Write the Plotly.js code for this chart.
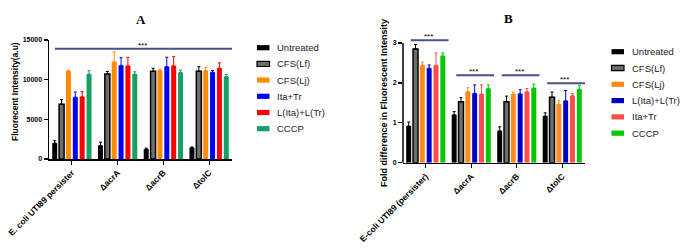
<!DOCTYPE html>
<html><head><meta charset="utf-8">
<script src="https://cdn.plot.ly/plotly-3.0.1.min.js"></script>
<style>html,body{margin:0;padding:0;background:#fff}#chart{width:685px;height:248px}</style>
</head><body><div id="chart"></div>
<script>
// ---------- DATA ----------
const categoriesA = ['E. coli UTI89 persister', '\u0394acrA', '\u0394acrB', '\u0394tolC'];
const categoriesB = ['E-coli UTI89 (persister)', '\u0394acrA', '\u0394acrB', '\u0394tolC'];
const seriesA = ['Untreated', 'CFS(Lf)', 'CFS(Lj)', 'Ita+Tr', 'L(Ita)+L(Tr)', 'CCCP'];
const seriesB = ['Untreated', 'CFS(Lf)', 'CFS(Lj)', 'L(Ita)+L(Tr)', 'Ita+Tr', 'CCCP'];

// Chart A: Fluorescent intensity (a.u)
const A_untreated = [2000, 1700, 1250, 1430];
const A_cfsLf     = [6900, 10700, 11050, 11050];
const A_cfsLj     = [11100, 12250, 11150, 11150];
const A_itaTr     = [7800, 11800, 11650, 10950];
const A_lItaLTr   = [7850, 11750, 11750, 11450];
const A_cccp      = [10700, 10700, 10900, 10400];
const A_untreated_err = [300, 420, 120, 100];
const A_cfsLf_err     = [590, 340, 380, 590];
const A_cfsLj_err     = [100, 1260, 170, 380];
const A_itaTr_err     = [630, 970, 1180, 210];
const A_lItaLTr_err   = [630, 1050, 1180, 670];
const A_cccp_err      = [420, 290, 290, 250];

// Chart B: fold difference
const B_untreated = [0.92, 1.20, 0.80, 1.17];
const B_cfsLf     = [2.85, 1.53, 1.53, 1.64];
const B_cfsLj     = [2.44, 1.78, 1.72, 1.47];
const B_lItaLTr   = [2.37, 1.74, 1.73, 1.55];
const B_itaTr     = [2.44, 1.72, 1.78, 1.68];
const B_cccp      = [2.68, 1.86, 1.87, 1.84];
const B_untreated_err = [0.10, 0.08, 0.10, 0.08];
const B_cfsLf_err     = [0.11, 0.10, 0.14, 0.13];
const B_cfsLj_err     = [0.08, 0.10, 0.05, 0.08];
const B_lItaLTr_err   = [0.08, 0.21, 0.10, 0.26];
const B_itaTr_err     = [0.31, 0.23, 0.08, 0.05];
const B_cccp_err      = [0.07, 0.09, 0.10, 0.10];

const noMinus = [0, 0, 0, 0];

// significance markers
const sigA_y = 13900;
const sigB_y = [3.07, 2.19, 2.19, 1.99];
const sigLabel = '***';

// ---------- STYLE ----------
const W = 685, H = 248;
const px = v => v / W;
const py = v => 1 - v / H;
const FONT = 'Liberation Sans, Arial, sans-serif';

// axis pixel geometry
const A_top = 40, A_bot = 159, A_max = 15000;
const B_bot = 162.7, B_unit = 39.9, B_max = 3.12;
const yA_px = v => A_bot - v / A_max * (A_bot - A_top);
const yB_px = v => B_bot - v * B_unit;

const colorsA = ['#000000', '#6e6e6e', '#ff8c00', '#0000ff', '#ff0000', '#17a065'];
const colorsB = ['#000000', '#6e6e6e', '#ff8a1a', '#0000c8', '#ff4d4d', '#00c800'];
const valuesA = [A_untreated, A_cfsLf, A_cfsLj, A_itaTr, A_lItaLTr, A_cccp];
const errsA = [A_untreated_err, A_cfsLf_err, A_cfsLj_err, A_itaTr_err, A_lItaLTr_err, A_cccp_err];
const valuesB = [B_untreated, B_cfsLf, B_cfsLj, B_lItaLTr, B_itaTr, B_cccp];
const errsB = [B_untreated_err, B_cfsLf_err, B_cfsLj_err, B_lItaLTr_err, B_itaTr_err, B_cccp_err];

const traces = [];
seriesA.forEach((name, i) => {
  traces.push({
    type: 'bar', name: name, x: categoriesA, y: valuesA[i], xaxis: 'x', yaxis: 'y',
    marker: { color: colorsA[i], line: { color: '#000', width: i === 1 ? 1.5 : 0 } },
    error_y: { type: 'data', array: errsA[i], arrayminus: noMinus, symmetric: false,
               color: i === 1 ? '#000' : colorsA[i], thickness: 1, width: 1.5 },
    showlegend: false, hoverinfo: 'skip'
  });
});
seriesB.forEach((name, i) => {
  traces.push({
    type: 'bar', name: name, x: categoriesB, y: valuesB[i], xaxis: 'x2', yaxis: 'y2',
    marker: { color: colorsB[i], line: { color: '#000', width: i === 1 ? 1.5 : 0 } },
    error_y: { type: 'data', array: errsB[i], arrayminus: noMinus, symmetric: false,
               color: i === 1 ? '#000' : colorsB[i], thickness: 1, width: 1.5 },
    showlegend: false, hoverinfo: 'skip'
  });
});

const tickFontX = { family: FONT, size: 8.5, color: '#000', weight: 'bold' };
const tickFontY = { family: FONT, size: 7, color: '#000', weight: 'bold' };

const shapes = [];
const annotations = [];

// sig line A
shapes.push({ type: 'line', xref: 'x', yref: 'y', x0: -0.37, x1: 3.5, y0: sigA_y, y1: sigA_y,
  line: { color: '#4a4f8a', width: 2 } });
annotations.push({ xref: 'x', yref: 'paper', x: 1.55, y: py(yA_px(sigA_y) - 10), text: sigLabel, showarrow: false,
  font: { family: FONT, size: 8, color: '#000' } });

// sig lines B
sigB_y.forEach((yv, i) => {
  shapes.push({ type: 'line', xref: 'x2', yref: 'y2', x0: i - 0.33, x1: i + 0.5, y0: yv, y1: yv,
    line: { color: '#4a4f8a', width: 2 } });
  annotations.push({ xref: 'x2', yref: 'paper', x: i + 0.05, y: py(yB_px(yv) - 10), text: sigLabel, showarrow: false,
    font: { family: FONT, size: 8, color: '#000' } });
});

// B y-axis line (ends at 3)
shapes.push({ type: 'line', xref: 'x2 domain', yref: 'y2', x0: 0, x1: 0, y0: 0, y1: 3,
  line: { color: '#000', width: 1.5 } });

// panel titles
annotations.push({ xref: 'paper', yref: 'paper', x: px(134), y: py(10), text: '<b>A</b>', showarrow: false,
  font: { family: 'Liberation Serif, Times New Roman, serif', size: 13, color: '#000' } });
annotations.push({ xref: 'paper', yref: 'paper', x: px(515), y: py(9), text: '<b>B</b>', showarrow: false,
  font: { family: 'Liberation Serif, Times New Roman, serif', size: 13, color: '#000' } });

// y titles
annotations.push({ xref: 'paper', yref: 'paper', x: px(8), y: py(92), text: '<b>Fluorecent Intensity(a.u)</b>',
  textangle: -90, showarrow: false, font: { family: FONT, size: 8.5, color: '#000' } });
annotations.push({ xref: 'paper', yref: 'paper', x: px(384), y: py(103), text: '<b>Fold difference in Fluorescent Intensity</b>',
  textangle: -90, showarrow: false, font: { family: FONT, size: 9, color: '#000' } });

// custom legends
function addLegend(names, colors, swX, textX, y0, step) {
  names.forEach((n, i) => {
    const yc = y0 + i * step;
    shapes.push({ type: 'rect', xref: 'paper', yref: 'paper',
      x0: px(swX), x1: px(swX + 12.5), y0: py(yc + 2.6), y1: py(yc - 2.6),
      fillcolor: colors[i], line: { color: '#000', width: i === 1 ? 1.2 : 0 } });
    annotations.push({ xref: 'paper', yref: 'paper', x: px(textX), y: py(yc), text: n,
      xanchor: 'left', yanchor: 'middle', showarrow: false,
      font: { family: FONT, size: 9.5, color: '#222' } });
  });
}
addLegend(seriesA, colorsA, 257, 275, 47.7, 16.2);
addLegend(seriesB, colorsB, 611.5, 630, 51.7, 16.3);

const layout = {
  width: W, height: H,
  margin: { l: 0, r: 0, t: 0, b: 0 },
  paper_bgcolor: '#fff', plot_bgcolor: '#fff',
  barmode: 'group', bargap: 0.1, bargroupgap: 0.27,
  showlegend: false,
  xaxis: {
    domain: [px(49), px(232)], anchor: 'y', type: 'category', range: [-0.5, 3.5],
    showline: true, linecolor: '#000', linewidth: 1.5, ticks: 'outside', ticklen: 4, tickwidth: 1.2,
    tickcolor: '#000', tickangle: -45, tickfont: tickFontX, showgrid: false, zeroline: false, fixedrange: true
  },
  yaxis: {
    domain: [py(A_bot), py(A_top)], anchor: 'x', range: [0, A_max], tickvals: [0, 5000, 10000, 15000],
    tickformat: 'd', exponentformat: 'none',
    showline: true, linecolor: '#000', linewidth: 1.5, ticks: 'outside', ticklen: 4, tickwidth: 1.2,
    tickcolor: '#000', tickfont: tickFontY, showgrid: false, zeroline: false, fixedrange: true
  },
  xaxis2: {
    domain: [px(403), px(585)], anchor: 'y2', type: 'category', range: [-0.5, 3.5],
    showline: true, linecolor: '#000', linewidth: 1.5, ticks: 'outside', ticklen: 4, tickwidth: 1.2,
    tickcolor: '#000', tickangle: -45, tickfont: tickFontX, showgrid: false, zeroline: false, fixedrange: true
  },
  yaxis2: {
    domain: [py(B_bot), py(yB_px(B_max))], anchor: 'x2', range: [0, B_max], tickvals: [0, 1, 2, 3],
    showline: false, ticks: 'outside', ticklen: 4, tickwidth: 1.2,
    tickcolor: '#000', tickfont: tickFontY, showgrid: false, zeroline: false, fixedrange: true
  },
  shapes: shapes,
  annotations: annotations
};

Plotly.newPlot('chart', traces, layout, { displayModeBar: false, staticPlot: true });
</script>
</body></html>
